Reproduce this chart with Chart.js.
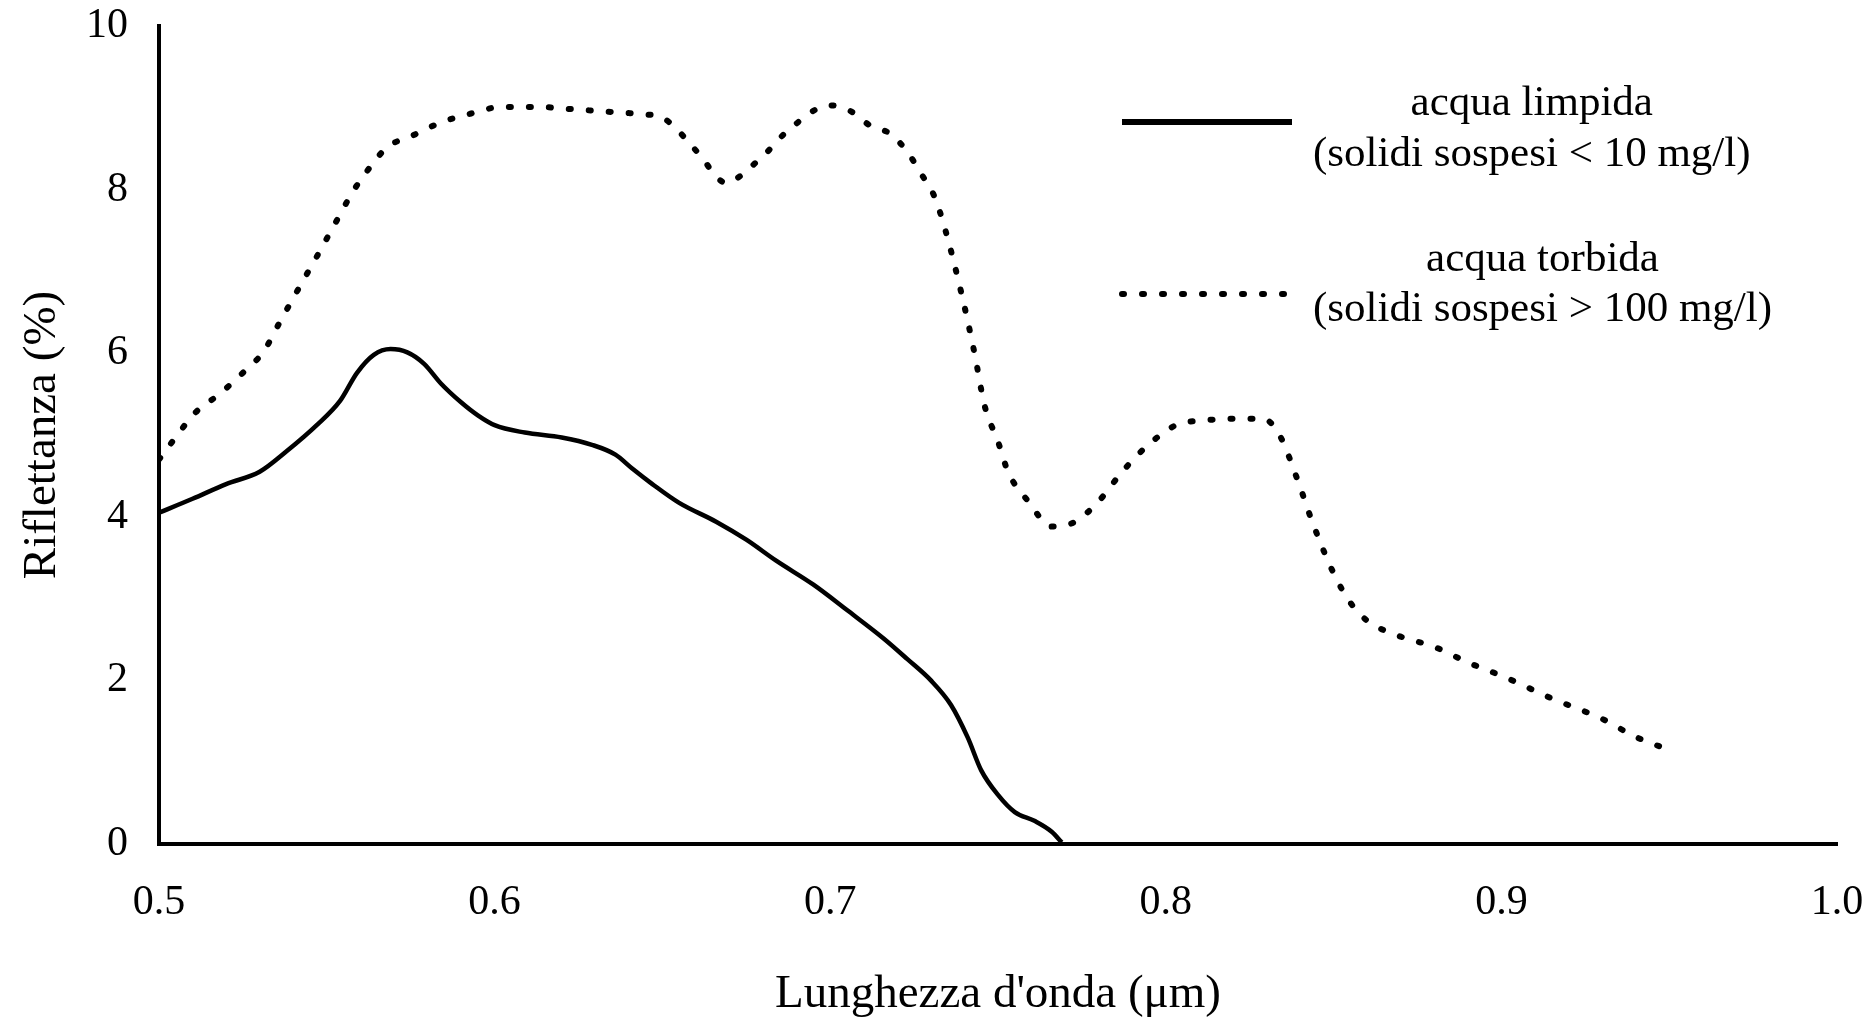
<!DOCTYPE html>
<html>
<head>
<meta charset="utf-8">
<script src="https://cdn.jsdelivr.net/npm/chart.js@4"></script>
<style>
  html, body { margin: 0; padding: 0; background: #fff; }
  #wrap { width: 1872px; height: 1020px; }
</style>
</head>
<body>
<div id="wrap"><canvas id="riflettanzaChart"></canvas></div>
<script>
// Acqua limpida (solidi sospesi < 10 mg/l)
const lambdaLimpida = [0.500, 0.510, 0.520, 0.530, 0.538, 0.547, 0.554, 0.559, 0.564, 0.569,
    0.574, 0.579, 0.584, 0.590, 0.595, 0.600, 0.609, 0.620, 0.629, 0.636,
    0.641, 0.647, 0.655, 0.666, 0.675, 0.684, 0.695, 0.705, 0.716, 0.723,
    0.730, 0.736, 0.741, 0.745, 0.750, 0.755, 0.761, 0.766, 0.769];
const riflLimpida = [4.05, 4.22, 4.40, 4.55, 4.80, 5.12, 5.42, 5.76, 5.98, 6.05,
    6.01, 5.87, 5.63, 5.40, 5.24, 5.12, 5.03, 4.97, 4.88, 4.76,
    4.59, 4.40, 4.17, 3.94, 3.72, 3.46, 3.17, 2.86, 2.51, 2.26,
    2.00, 1.70, 1.30, 0.90, 0.60, 0.39, 0.28, 0.15, 0.02];

// Acqua torbida (solidi sospesi > 100 mg/l)
const lambdaTorbida = [0.500, 0.504, 0.511, 0.518, 0.526, 0.531, 0.536, 0.542, 0.547, 0.552,
    0.558, 0.563, 0.568, 0.575, 0.584, 0.593, 0.602, 0.613, 0.624, 0.638,
    0.645, 0.650, 0.654, 0.658, 0.662, 0.666, 0.669, 0.673, 0.677, 0.681,
    0.686, 0.690, 0.694, 0.700, 0.706, 0.712, 0.718, 0.723, 0.727, 0.731,
    0.734, 0.739, 0.743, 0.746, 0.750, 0.753, 0.759, 0.766, 0.773, 0.780,
    0.787, 0.794, 0.803, 0.812, 0.821, 0.829, 0.834, 0.839, 0.844, 0.850,
    0.855, 0.860, 0.869, 0.880, 0.890, 0.901, 0.915, 0.930, 0.940, 0.952];
const riflTorbida = [4.70, 4.92, 5.28, 5.50, 5.80, 6.01, 6.38, 6.82, 7.18, 7.55,
    7.99, 8.28, 8.52, 8.65, 8.82, 8.93, 9.01, 9.01, 8.98, 8.94,
    8.92, 8.88, 8.75, 8.57, 8.38, 8.16, 8.08, 8.16, 8.30, 8.45,
    8.67, 8.81, 8.94, 9.03, 8.96, 8.78, 8.68, 8.46, 8.20, 7.92,
    7.55, 6.75, 6.00, 5.36, 4.92, 4.55, 4.19, 3.88, 3.94, 4.19,
    4.55, 4.85, 5.12, 5.18, 5.20, 5.20, 4.99, 4.48, 3.90, 3.31,
    2.95, 2.73, 2.55, 2.41, 2.22, 2.04, 1.78, 1.53, 1.31, 1.12];

const xTicks = [0.5, 0.6, 0.7, 0.8, 0.9, 1.0];
const yTicks = [0, 2, 4, 6, 8, 10];
const legendLimpida = ['acqua limpida', '(solidi sospesi < 10 mg/l)'];
const legendTorbida = ['acqua torbida', '(solidi sospesi > 100 mg/l)'];

const serif = '"Liberation Serif", "Times New Roman", serif';
const dashTorbida = [2, 18];

function toPoints(xs, ys) {
    return xs.map((x, i) => ({ x: x, y: ys[i] }));
}

// legenda disegnata a mano: due righe di testo centrate accanto al campione di linea
const legendaPlugin = {
    id: 'legenda',
    afterDraw(chart) {
        const ctx = chart.ctx;
        const items = [
            { text: legendLimpida, y1: 104, y2: 155, lineY: 122, dash: [], width: 6 },
            { text: legendTorbida, y1: 260, y2: 310, lineY: 294, dash: dashTorbida, width: 6 }
        ];
        ctx.save();
        ctx.fillStyle = '#000';
        ctx.strokeStyle = '#000';
        ctx.font = '43px ' + serif;
        ctx.textBaseline = 'middle';
        items.forEach(it => {
            ctx.beginPath();
            ctx.setLineDash(it.dash);
            ctx.lineWidth = it.width;
            ctx.lineCap = it.dash.length ? 'round' : 'butt';
            ctx.moveTo(1122, it.lineY);
            ctx.lineTo(1292, it.lineY);
            ctx.stroke();
            const left = 1313;
            const w = ctx.measureText(it.text[1]).width;
            ctx.textAlign = 'center';
            ctx.fillText(it.text[0], left + w / 2, it.y1);
            ctx.fillText(it.text[1], left + w / 2, it.y2);
        });
        ctx.restore();
    }
};

const ctx = document.getElementById('riflettanzaChart');
new Chart(ctx, {
    type: 'line',
    data: {
        datasets: [{
            label: legendLimpida.join(' '),
            data: toPoints(lambdaLimpida, riflLimpida),
            borderColor: '#000',
            borderWidth: 4.5,
            pointRadius: 0,
            cubicInterpolationMode: 'monotone'
        }, {
            label: legendTorbida.join(' '),
            data: toPoints(lambdaTorbida, riflTorbida),
            borderColor: '#000',
            borderWidth: 6,
            borderDash: dashTorbida,
            borderCapStyle: 'round',
            pointRadius: 0,
            cubicInterpolationMode: 'monotone'
        }]
    },
    options: {
        responsive: true,
        maintainAspectRatio: false,
        animation: false,
        layout: { padding: { top: 26, right: 35, left: 0, bottom: 0 } },
        plugins: {
            legend: { display: false },
            tooltip: { enabled: false }
        },
        scales: {
            x: {
                type: 'linear',
                min: 0.5,
                max: 1.0,
                afterFit: s => { s.height = 176; s.paddingLeft = 0; s.paddingRight = 0; },
                afterBuildTicks: s => { s.ticks = xTicks.map(v => ({ value: v })); },
                grid: { display: false, drawTicks: false },
                border: { display: true, color: '#000', width: 4 },
                ticks: {
                    color: '#000',
                    padding: 34,
                    maxRotation: 0,
                    font: { family: serif, size: 42 },
                    callback: v => v.toFixed(1)
                },
                title: {
                    display: true,
                    text: "Lunghezza d'onda (μm)",
                    color: '#000',
                    font: { family: serif, size: 47, lineHeight: 1 },
                    padding: { top: 0, bottom: 2 }
                }
            },
            y: {
                min: 0,
                max: 10,
                afterFit: s => { s.width = 159; s.paddingTop = 0; s.paddingBottom = 0; },
                afterBuildTicks: s => { s.ticks = yTicks.map(v => ({ value: v })); },
                grid: { display: false, drawTicks: false },
                border: { display: true, color: '#000', width: 4 },
                ticks: {
                    color: '#000',
                    padding: 31,
                    font: { family: serif, size: 42 }
                },
                title: {
                    display: true,
                    text: 'Riflettanza (%)',
                    color: '#000',
                    font: { family: serif, size: 47, lineHeight: 1 },
                    padding: { top: 19, bottom: 0 }
                }
            }
        }
    },
    plugins: [legendaPlugin]
});
</script>
</body>
</html>
